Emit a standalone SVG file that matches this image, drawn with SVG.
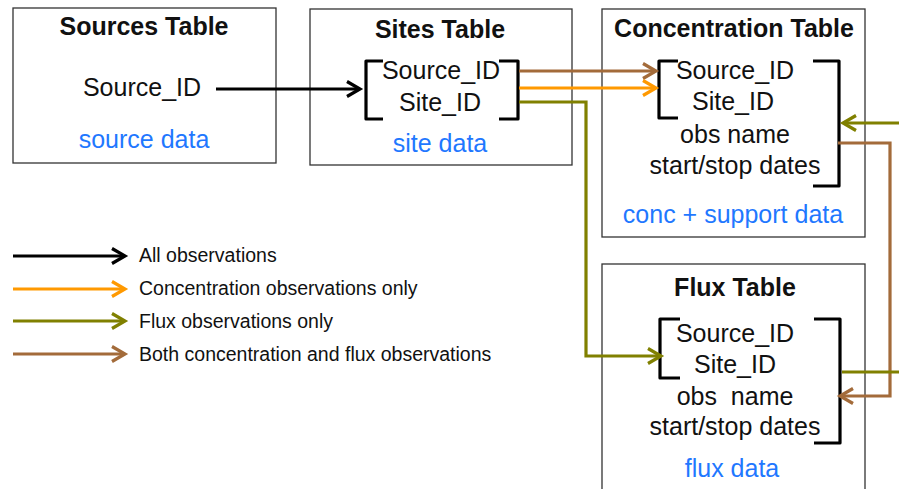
<svg xmlns="http://www.w3.org/2000/svg" width="899" height="489" viewBox="0 0 899 489">
<style>
text{font-family:"Liberation Sans",Arial,sans-serif;fill:#111;}
.title{font-size:25px;font-weight:bold;text-anchor:middle;}
.f{font-size:25px;text-anchor:middle;}
.blue{font-size:25px;text-anchor:middle;fill:#1F78FF;}
.leg{font-size:19.5px;}
.box{fill:#fff;stroke:#333;stroke-width:1.3;}
.br{fill:none;stroke:#000;stroke-width:3.2;stroke-linejoin:round;}
.c{fill:none;stroke-width:3.2;}
.k{stroke:#000;} .o{stroke:#FF9900;} .g{stroke:#808000;} .b{stroke:#A36B3A;}
</style>
<defs>
<marker id="mk" viewBox="-16 -10 20 20" refX="0" refY="0" markerWidth="20" markerHeight="20" markerUnits="userSpaceOnUse" orient="auto" overflow="visible"><path d="M-13,-7.5 L0,0 L-13,7.5" fill="none" stroke="#000" stroke-width="3.2"/></marker>
<marker id="mo" viewBox="-16 -10 20 20" refX="0" refY="0" markerWidth="20" markerHeight="20" markerUnits="userSpaceOnUse" orient="auto" overflow="visible"><path d="M-13,-7.5 L0,0 L-13,7.5" fill="none" stroke="#FF9900" stroke-width="3.2"/></marker>
<marker id="mg" viewBox="-16 -10 20 20" refX="0" refY="0" markerWidth="20" markerHeight="20" markerUnits="userSpaceOnUse" orient="auto" overflow="visible"><path d="M-13,-7.5 L0,0 L-13,7.5" fill="none" stroke="#808000" stroke-width="3.2"/></marker>
<marker id="mb" viewBox="-16 -10 20 20" refX="0" refY="0" markerWidth="20" markerHeight="20" markerUnits="userSpaceOnUse" orient="auto" overflow="visible"><path d="M-13,-7.5 L0,0 L-13,7.5" fill="none" stroke="#A36B3A" stroke-width="3.2"/></marker>
</defs>
<rect width="899" height="489" fill="#fff"/>

<g id="sources">
<rect class="box" x="13" y="8" width="263" height="155"/>
<text class="title" x="144" y="35">Sources Table</text>
<text class="f" x="142" y="96">Source_ID</text>
<text class="blue" x="144" y="148">source data</text>
</g>

<g id="sites">
<rect class="box" x="310" y="9" width="262" height="156"/>
<text class="title" x="440" y="38">Sites Table</text>
<path class="br" d="M383,61 H366 V119 H383"/>
<path class="br" d="M499,61 H518 V119 H499"/>
<text class="f" x="441" y="79">Source_ID</text>
<text class="f" x="440" y="111">Site_ID</text>
<text class="blue" x="440" y="152">site data</text>
</g>

<g id="concentration">
<rect class="box" x="602" y="9" width="263" height="228"/>
<text class="title" x="734" y="37">Concentration Table</text>
<path class="br" d="M678,61 H659 V118 H678"/>
<path class="br" d="M813,61 H839 V186 H813"/>
<text class="f" x="735" y="79">Source_ID</text>
<text class="f" x="733" y="110">Site_ID</text>
<text class="f" x="735" y="143">obs name</text>
<text class="f" x="735" y="174">start/stop dates</text>
<text class="blue" x="733" y="223">conc + support data</text>
</g>

<g id="flux">
<rect class="box" x="602" y="264" width="263" height="240"/>
<text class="title" x="735" y="296">Flux Table</text>
<path class="br" d="M680,319 H660 V378 H680"/>
<path class="br" d="M814,319 H840 V443 H814"/>
<text class="f" x="735" y="342">Source_ID</text>
<text class="f" x="735" y="373">Site_ID</text>
<text class="f" x="735" y="405" xml:space="preserve">obs  name</text>
<text class="f" x="735" y="435">start/stop dates</text>
<text class="blue" x="732" y="477">flux data</text>
</g>

<g id="connectors">
<path class="c k" d="M216,89 H360" marker-end="url(#mk)"/>
<path class="c b" d="M519,71 H656" marker-end="url(#mb)"/>
<path class="c o" d="M519,88 H656" marker-end="url(#mo)"/>
<path class="c g" d="M519,102 H586 V356 H661" marker-end="url(#mg)"/>
<path class="c g" d="M899,123 H843" marker-end="url(#mg)"/>
<path class="c b" d="M838,143 H890 V396 H840" marker-end="url(#mb)"/>
<path class="c g" d="M842,372 H899"/>
</g>

<g id="legend">
<path class="c k" d="M13,256 H125" marker-end="url(#mk)"/>
<path class="c o" d="M13,289 H125" marker-end="url(#mo)"/>
<path class="c g" d="M13,321 H125" marker-end="url(#mg)"/>
<path class="c b" d="M13,354 H125" marker-end="url(#mb)"/>
<text class="leg" x="139" y="262">All observations</text>
<text class="leg" x="139" y="295">Concentration observations only</text>
<text class="leg" x="139" y="328">Flux observations only</text>
<text class="leg" x="139" y="361">Both concentration and flux observations</text>
</g>
</svg>
